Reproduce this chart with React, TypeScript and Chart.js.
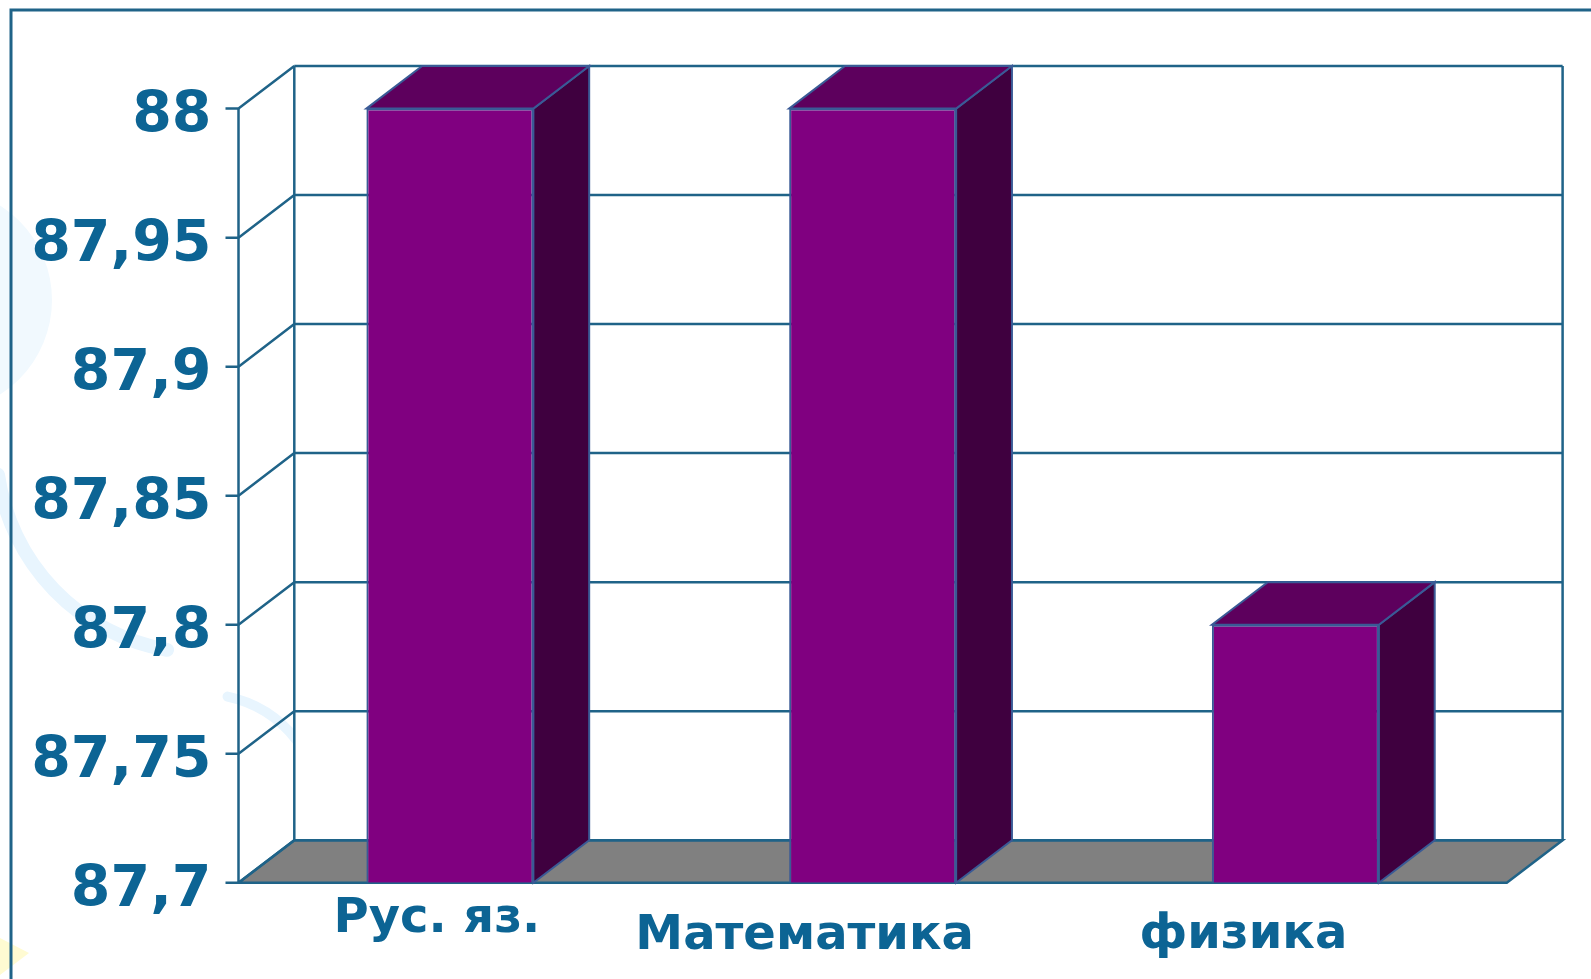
import React, { useEffect, useRef } from "react";
import { Chart, registerables } from "chart.js";
Chart.register(...registerables);

const CATEGORIES = ["Рус. яз.", "Математика", "физика"];
const VALUES = [88, 88, 87.8];
const Y_MIN = 87.7;
const Y_MAX = 88;
const Y_TICKS = [87.7, 87.75, 87.8, 87.85, 87.9, 87.95, 88];

const W = 1591;
const H = 979;
const DEPTH_X = 55.8;
const DEPTH_Y = 42.6;
const LINE = "#1f6388";
const TEXT = "#0c6494";
const FRONT = "#800080";
const TOP = "#5d005d";
const SIDE = "#3f003f";
const EDGE = "#3a5a96";
const FLOOR = "#808080";
const LABEL_NUDGE = [
  { dx: -13, dy: 49 },
  { dx: -68, dy: 66 },
  { dx: -52, dy: 65 },
];

const fmt = (v: number) => String(Number(v.toFixed(2))).replace(".", ",");

const decor = {
  id: "decor",
  beforeDraw(chart: any) {
    const { ctx } = chart;
    ctx.save();
    // faint background swirls
    ctx.strokeStyle = "#e8f5fe";
    ctx.lineCap = "round";
    ctx.lineWidth = 14;
    ctx.beginPath();
    ctx.arc(203, 446, 207, (100 * Math.PI) / 180, (172 * Math.PI) / 180);
    ctx.stroke();
    ctx.lineWidth = 10;
    ctx.beginPath();
    ctx.arc(203, 812, 118, (-78 * Math.PI) / 180, (2 * Math.PI) / 180);
    ctx.stroke();
    ctx.fillStyle = "#f1f9fe";
    ctx.beginPath();
    ctx.arc(-60, 300, 112, -Math.PI / 2, Math.PI / 2);
    ctx.fill();
    // faint yellow corner mark
    ctx.fillStyle = "#fffbd2";
    ctx.beginPath();
    ctx.moveTo(0, 938);
    ctx.lineTo(29, 953);
    ctx.lineTo(0, 975);
    ctx.closePath();
    ctx.fill();
    ctx.restore();
  },
};

const threeD = {
  id: "threeD",
  beforeDatasetsDraw(chart: any) {
    const { ctx, chartArea } = chart;
    const { left, right, top, bottom } = chartArea;
    const y = chart.scales.y;
    ctx.save();
    ctx.lineJoin = "miter";
    // outer frame
    ctx.strokeStyle = LINE;
    ctx.lineWidth = 3;
    ctx.beginPath();
    ctx.moveTo(11, H);
    ctx.lineTo(11, 10);
    ctx.lineTo(W, 10);
    ctx.stroke();

    // back wall background
    ctx.fillStyle = "#ffffff";
    ctx.fillRect(left + DEPTH_X, top - DEPTH_Y, right - left, bottom - top);

    // floor
    ctx.beginPath();
    ctx.moveTo(left, bottom);
    ctx.lineTo(right, bottom);
    ctx.lineTo(right + DEPTH_X, bottom - DEPTH_Y);
    ctx.lineTo(left + DEPTH_X, bottom - DEPTH_Y);
    ctx.closePath();
    ctx.fillStyle = FLOOR;
    ctx.fill();
    ctx.lineWidth = 2.5;
    ctx.strokeStyle = LINE;
    ctx.stroke();

    // back wall grid lines + depth diagonals + ticks
    for (const v of Y_TICKS) {
      const py = y.getPixelForValue(v);
      ctx.beginPath();
      ctx.moveTo(left + DEPTH_X, py - DEPTH_Y);
      ctx.lineTo(right + DEPTH_X, py - DEPTH_Y);
      ctx.moveTo(left, py);
      ctx.lineTo(left + DEPTH_X, py - DEPTH_Y);
      ctx.moveTo(left - 13, py);
      ctx.lineTo(left, py);
      ctx.stroke();
    }
    // back wall verticals
    ctx.beginPath();
    ctx.moveTo(left + DEPTH_X, top - DEPTH_Y);
    ctx.lineTo(left + DEPTH_X, bottom - DEPTH_Y);
    ctx.moveTo(right + DEPTH_X, top - DEPTH_Y);
    ctx.lineTo(right + DEPTH_X, bottom - DEPTH_Y);
    // front axis
    ctx.moveTo(left, top);
    ctx.lineTo(left, bottom);
    ctx.stroke();

    // y tick labels
    ctx.fillStyle = TEXT;
    ctx.font = "bold 57px 'DejaVu Sans'";
    ctx.textAlign = "right";
    ctx.textBaseline = "alphabetic";
    for (const v of Y_TICKS) {
      const py = y.getPixelForValue(v);
      ctx.fillText(fmt(v), left - 27, py + 23);
    }
    ctx.restore();
  },
  afterDatasetsDraw(chart: any) {
    const { ctx, chartArea } = chart;
    const meta = chart.getDatasetMeta(0);
    const basePx = chart.scales.y.getPixelForValue(Y_MIN);
    ctx.save();
    ctx.lineWidth = 2;
    ctx.strokeStyle = EDGE;
    ctx.lineJoin = "miter";
    meta.data.forEach((bar: any) => {
      const { x, y, width } = bar.getProps(["x", "y", "width"], true);
      const base = basePx;
      const l = x - width / 2;
      const r = x + width / 2;
      // side
      ctx.beginPath();
      ctx.moveTo(r, y);
      ctx.lineTo(r + DEPTH_X, y - DEPTH_Y);
      ctx.lineTo(r + DEPTH_X, base - DEPTH_Y);
      ctx.lineTo(r, base);
      ctx.closePath();
      ctx.fillStyle = SIDE;
      ctx.fill();
      ctx.stroke();
      // top
      ctx.beginPath();
      ctx.moveTo(l, y);
      ctx.lineTo(r, y);
      ctx.lineTo(r + DEPTH_X, y - DEPTH_Y);
      ctx.lineTo(l + DEPTH_X, y - DEPTH_Y);
      ctx.closePath();
      ctx.fillStyle = TOP;
      ctx.fill();
      ctx.stroke();
    });
    // category labels
    const xs = chart.scales.x;
    ctx.fillStyle = TEXT;
    ctx.font = "bold 48px 'DejaVu Sans'";
    ctx.textAlign = "center";
    ctx.textBaseline = "alphabetic";
    CATEGORIES.forEach((c, i) => {
      const px = xs.getPixelForValue(i);
      ctx.fillText(c, px + LABEL_NUDGE[i].dx, chartArea.bottom + LABEL_NUDGE[i].dy);
    });
    ctx.restore();
  },
};

export default function App() {
  const ref = useRef<HTMLCanvasElement | null>(null);
  useEffect(() => {
    document.body.style.margin = "0";
    const canvas = ref.current!;
    const chart = new Chart(canvas, {
      type: "bar",
      data: {
        labels: CATEGORIES,
        datasets: [
          {
            data: VALUES,
            base: Y_MIN,
            backgroundColor: FRONT,
            borderColor: EDGE,
            borderWidth: 2,
            barPercentage: 0.395,
            categoryPercentage: 1,
          } as any,
        ],
      },
      options: {
        animation: false,
        responsive: false,
        devicePixelRatio: 1,
        layout: { padding: { left: 238.5, right: W - 1506.8, top: 108.6, bottom: H - 882.8 } },
        scales: {
          x: { type: "category", display: false, offset: true },
          y: {
            display: false,
            min: Y_MIN,
            max: Y_MAX,
            afterBuildTicks: (s: any) => {
              s.ticks = Y_TICKS.map((v) => ({ value: v }));
            },
          },
        },
        plugins: { legend: { display: false }, tooltip: { enabled: false } },
      },
      plugins: [decor, threeD],
    });
    return () => chart.destroy();
  }, []);
  return (
    <div style={{ width: W, height: H, background: "#ffffff" }}>
      <canvas ref={ref} width={W} height={H} style={{ display: "block" }} />
    </div>
  );
}
